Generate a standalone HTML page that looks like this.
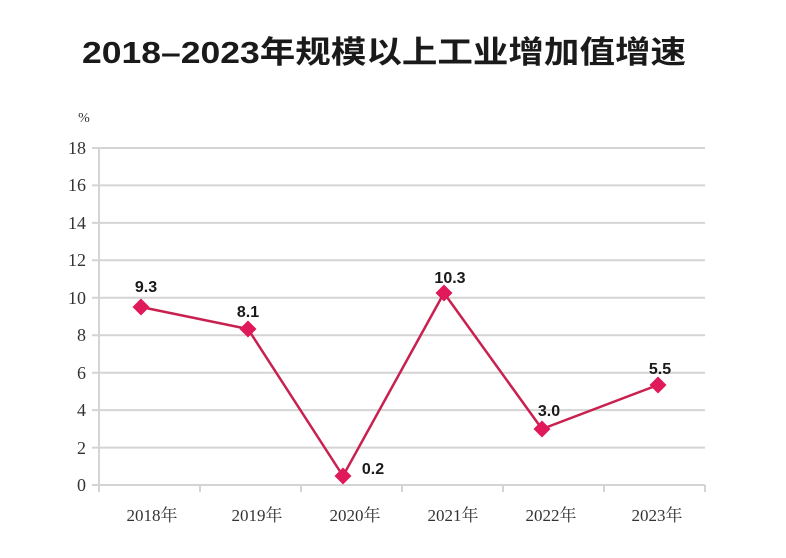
<!DOCTYPE html>
<html><head><meta charset="utf-8"><style>
body{margin:0;background:#fff;}
</style></head><body>
<svg width="786" height="558" xmlns="http://www.w3.org/2000/svg" style="display:block">
<text x="82" y="63" textLength="604" lengthAdjust="spacingAndGlyphs" font-family="'Liberation Sans','Noto Sans CJK SC',sans-serif" font-size="31" font-weight="bold" fill="#1a1a1a">2018–2023年规模以上工业增加值增速</text>
<text x="84" y="122" text-anchor="middle" font-family="'Liberation Serif',serif" font-size="14" fill="#333">%</text>
<g stroke="#d4d4d4" stroke-width="2">
<line x1="92" y1="148" x2="705" y2="148"/>
<line x1="92" y1="185.4" x2="705" y2="185.4"/>
<line x1="92" y1="222.9" x2="705" y2="222.9"/>
<line x1="92" y1="260.3" x2="705" y2="260.3"/>
<line x1="92" y1="297.8" x2="705" y2="297.8"/>
<line x1="92" y1="335.2" x2="705" y2="335.2"/>
<line x1="92" y1="372.7" x2="705" y2="372.7"/>
<line x1="92" y1="410.1" x2="705" y2="410.1"/>
<line x1="92" y1="447.6" x2="705" y2="447.6"/>
<line x1="92" y1="485" x2="705" y2="485"/>
<line x1="99" y1="148" x2="99" y2="492"/>
<line x1="200" y1="485" x2="200" y2="492"/>
<line x1="301" y1="485" x2="301" y2="492"/>
<line x1="402" y1="485" x2="402" y2="492"/>
<line x1="503" y1="485" x2="503" y2="492"/>
<line x1="604" y1="485" x2="604" y2="492"/>
<line x1="705" y1="485" x2="705" y2="492"/>
</g>
<g font-family="'Liberation Serif',serif" font-size="18" fill="#333" text-anchor="end">
<text x="86" y="154">18</text><text x="86" y="191">16</text><text x="86" y="229">14</text><text x="86" y="266">12</text><text x="86" y="304">10</text><text x="86" y="341">8</text><text x="86" y="379">6</text><text x="86" y="416">4</text><text x="86" y="454">2</text><text x="86" y="491">0</text>
</g>
<g font-family="'Liberation Serif','Noto Serif CJK SC',serif" font-size="17" fill="#333" text-anchor="middle">
<text x="152" y="521">2018年</text><text x="257" y="521">2019年</text><text x="355" y="521">2020年</text><text x="453" y="521">2021年</text><text x="551" y="521">2022年</text><text x="657" y="521">2023年</text>
</g>
<polyline points="141,307 248,329 343,476 444,293 542,429 658,385" fill="none" stroke="#c8204f" stroke-width="2.5"/>
<g fill="#e0195a">
<rect x="135" y="301" width="12" height="12" transform="rotate(45 141 307)"/>
<rect x="242" y="323" width="12" height="12" transform="rotate(45 248 329)"/>
<rect x="337" y="470" width="12" height="12" transform="rotate(45 343 476)"/>
<rect x="438" y="287" width="12" height="12" transform="rotate(45 444 293)"/>
<rect x="536" y="423" width="12" height="12" transform="rotate(45 542 429)"/>
<rect x="652" y="379" width="12" height="12" transform="rotate(45 658 385)"/>
</g>
<g font-family="'Liberation Sans',sans-serif" font-size="16" font-weight="bold" fill="#1a1a1a" text-anchor="middle">
<text x="146" y="292">9.3</text><text x="248" y="317">8.1</text><text x="373" y="474">0.2</text><text x="450" y="283">10.3</text><text x="549" y="416">3.0</text><text x="660" y="374">5.5</text>
</g>
</svg>
</body></html>
